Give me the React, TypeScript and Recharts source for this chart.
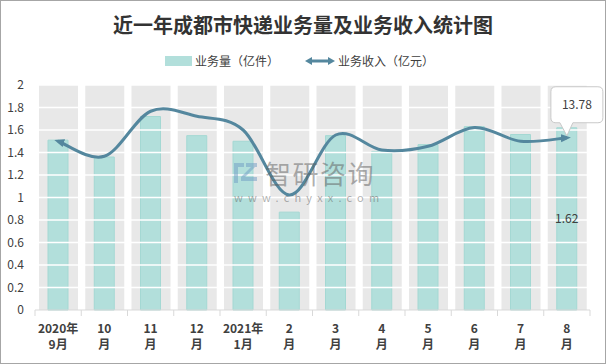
import React from 'react';
import {
  BarChart, Bar, Line, XAxis, YAxis, ReferenceLine,
} from 'recharts';

// tick labels for the two-line month axis
const monthTop = ['2020年', '10', '11', '12', '2021年', '2', '3', '4', '5', '6', '7', '8'];
const monthBottom = ['9月', '月', '月', '月', '1月', '月', '月', '月', '月', '月', '月', '月'];

// 业务量（亿件）
const volume = [1.51, 1.36, 1.72, 1.55, 1.5, 0.87, 1.55, 1.41, 1.47, 1.63, 1.56, 1.62];
// 业务收入（亿元）
const revenue = [13.5, 12.3, 15.9, 15.5, 14.4, 9.2, 14.0, 12.8, 13.1, 14.6, 13.5, 13.78];

const yTicks = [0, 0.2, 0.4, 0.6, 0.8, 1, 1.2, 1.4, 1.6, 1.8, 2];
const gridLines = [0.2, 0.4, 0.6, 0.8, 1, 1.2, 1.4, 1.6, 1.8, 2];

const rows = monthTop.map((top, i) => ({
  month: `${top}${monthBottom[i]}`,
  top,
  bottom: monthBottom[i],
  volume: volume[i],
  revenue: revenue[i],
}));

const FONT = '"Noto Sans CJK SC", "Noto Sans", sans-serif';
const LINE_COLOR = '#54879e';
const TEXT = '#404040';

// Excel-like smoothed line (Catmull-Rom as cubic bezier)
const smoothCurve = (context: any) => {
  let pts: number[][] = [];
  return {
    areaStart() {},
    areaEnd() {},
    lineStart() { pts = []; },
    point(x: number, y: number) { pts.push([+x, +y]); },
    lineEnd() {
      if (!pts.length) return;
      context.moveTo(pts[0][0], pts[0][1]);
      for (let i = 0; i < pts.length - 1; i++) {
        const p0 = pts[i - 1] || pts[i];
        const p1 = pts[i];
        const p2 = pts[i + 1];
        const p3 = pts[i + 2] || p2;
        context.bezierCurveTo(
          p1[0] + (p2[0] - p0[0]) / 6, p1[1] + (p2[1] - p0[1]) / 6,
          p2[0] - (p3[0] - p1[0]) / 6, p2[1] - (p3[1] - p1[1]) / 6,
          p2[0], p2[1],
        );
      }
    },
  };
};

const MonthTick = (props: any) => {
  const { x, y, payload, index } = props;
  const half = payload && payload.offset ? payload.offset : 23;
  const row = rows[index] || rows[0];
  return (
    <g>
      <line x1={x - half} x2={x - half} y1={y} y2={y + 6} stroke="#d9d9d9" />
      {index === rows.length - 1 && (
        <line x1={x + half} x2={x + half} y1={y} y2={y + 6} stroke="#d9d9d9" />
      )}
      <text x={x} y={y + 23} textAnchor="middle" fontSize={12} fontWeight="bold" fill={TEXT} fontFamily={FONT}>
        {row.top}
      </text>
      <text x={x} y={y + 39} textAnchor="middle" fontSize={12} fontWeight="bold" fill={TEXT} fontFamily={FONT}>
        {row.bottom}
      </text>
    </g>
  );
};

const VolumeLabel = (props: any) => {
  const { x, y, width, height, value, index } = props;
  if (index !== rows.length - 1) return null;
  return (
    <text x={x + width / 2} y={y + height / 2 + 4} textAnchor="middle" fontSize={12} fill={TEXT} fontFamily={FONT}>
      {value}
    </text>
  );
};

const RevenueCallout = (props: any) => {
  const { x, y, value, index } = props;
  if (index !== rows.length - 1) return null;
  const l = x - 16, r = x + 36, t = y - 51, b = y - 15, rad = 5;
  const d = `M${l + rad},${t} L${r - rad},${t} Q${r},${t} ${r},${t + rad} L${r},${b - rad} Q${r},${b} ${r - rad},${b}
    L${x + 6},${b} L${x},${y - 2} L${x - 7},${b} L${l + rad},${b} Q${l},${b} ${l},${b - rad} L${l},${t + rad} Q${l},${t} ${l + rad},${t} Z`;
  return (
    <g>
      <path d={d} fill="#ffffff" stroke="#c9c9c9" />
      <text x={x + 10} y={t + 22} textAnchor="middle" fontSize={12} fill={TEXT} fontFamily={FONT}>
        {value}
      </text>
    </g>
  );
};

const App = () => {
  return (
    <div style={{ position: 'absolute', left: 0, top: 0, width: 606, height: 364, boxSizing: 'border-box', border: '1px solid #a6a6a6', background: '#fff', overflow: 'hidden' }}>
      {/* Title */}
      <div style={{ position: 'absolute', left: -1, top: 9, width: 606, textAlign: 'center', fontFamily: FONT, fontWeight: 'bold', fontSize: 20, color: '#333', letterSpacing: 0 }}>
        近一年成都市快递业务量及业务收入统计图
      </div>

      {/* Legend */}
      <div style={{ position: 'absolute', left: 164, top: 51, display: 'flex', alignItems: 'center', fontFamily: FONT, fontSize: 12, color: TEXT, whiteSpace: 'nowrap' }}>
        <div style={{ width: 27, height: 10, background: '#b2dfdb', marginRight: 3 }}></div>
        <span>业务量（亿件）</span>
        <svg width={30} height={12} style={{ marginLeft: 26, marginRight: 3 }}>
          <line x1={4} y1={6} x2={26} y2={6} stroke={LINE_COLOR} strokeWidth={3} />
          <path d="M0,6 L7,2 L7,10 Z" fill={LINE_COLOR} />
          <path d="M30,6 L23,2 L23,10 Z" fill={LINE_COLOR} />
        </svg>
        <span>业务收入（亿元）</span>
      </div>

      <div style={{ position: 'absolute', left: -1, top: -1 }}>
        <BarChart width={606} height={364} data={rows} margin={{ top: 85, right: 16, bottom: 0, left: 0 }}>
          <defs>
            <marker id="arrowHead" viewBox="0 0 10 10" refX="6" refY="5" markerWidth="10" markerHeight="10"
              markerUnits="userSpaceOnUse" orient="auto-start-reverse">
              <path d="M0,1 L10,5 L0,9 Z" fill={LINE_COLOR} />
            </marker>
          </defs>
          <XAxis xAxisId="bg" dataKey="month" hide height={0} />
          <XAxis
            xAxisId="main"
            dataKey="month"
            height={54}
            interval={0}
            tickLine={false}
            tickSize={0}
            tickMargin={0}
            axisLine={{ stroke: '#d9d9d9' }}
            tick={<MonthTick />}
          />
          <YAxis
            yAxisId="left"
            domain={[0, 2]}
            ticks={yTicks}
            width={35}
            axisLine={false}
            tickLine={false}
            tickSize={0}
            tickMargin={11}
            tick={{ fill: TEXT, fontSize: 12, fontFamily: FONT }}
          />
          <YAxis yAxisId="right" orientation="right" domain={[0, 18]} hide width={0} />

          <Bar xAxisId="bg" yAxisId="left" dataKey="volume" barSize={39} fill="transparent"
            background={{ fill: '#e8e8e8' }} isAnimationActive={false} />

          {gridLines.map((v) => (
            <ReferenceLine key={v} xAxisId="main" yAxisId="left" y={v} stroke="#ffffff" strokeWidth={1.5} />
          ))}

          <Bar xAxisId="main" yAxisId="left" dataKey="volume" barSize={20} fill="#b2dfdb" stroke="#a4d8d3"
            label={<VolumeLabel />} isAnimationActive={false} />

          <Line xAxisId="main" yAxisId="right" dataKey="revenue" type={smoothCurve as any} stroke={LINE_COLOR}
            strokeWidth={3} dot={false} markerStart="url(#arrowHead)" markerEnd="url(#arrowHead)"
            label={<RevenueCallout />} isAnimationActive={false} />
        </BarChart>
      </div>

      {/* Watermark */}
      <div style={{ position: 'absolute', left: 232, top: 159, pointerEvents: 'none', fontFamily: FONT }}>
        <div style={{ display: 'flex', alignItems: 'center', height: 26 }}>
          <svg width={26} height={24} style={{ opacity: 0.5 }}>
            <rect x={1} y={2} width={10} height={4} fill="#6f9cc4" />
            <rect x={1} y={2} width={4} height={20} fill="#6f9cc4" />
            <rect x={13} y={2} width={11} height={4} fill="#6f9cc4" />
            <path d="M22,6 L12,16 L24,16 L24,20 L8,20 L8,16 L18,6 Z" fill="#6f9cc4" />
          </svg>
          <span style={{ fontSize: 26, color: 'rgba(95,95,95,0.5)', marginLeft: 6, letterSpacing: 1.5, lineHeight: '26px', height: 26 }}>智研咨询</span>
        </div>
        <div style={{ fontSize: 11, color: 'rgba(95,95,95,0.5)', letterSpacing: 5.2, marginTop: 5, marginLeft: 1, lineHeight: '12px' }}>www.chyxx.com</div>
      </div>
    </div>
  );
};

export default App;
